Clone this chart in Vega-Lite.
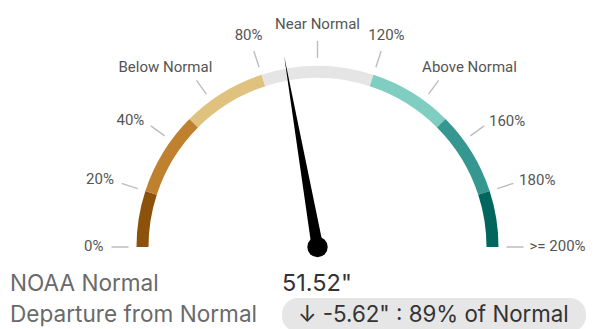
{
  "$schema": "https://vega.github.io/schema/vega-lite/v6.json",
  "width": 605,
  "height": 329,
  "autosize": "none",
  "padding": 0,
  "background": "white",
  "config": {"view": {"stroke": null}},
  "datasets": {
    "segments": [
      {"seg": "0-20", "from": 0, "to": 20},
      {"seg": "20-50", "from": 20, "to": 50},
      {"seg": "50-80", "from": 50, "to": 80},
      {"seg": "80-120", "from": 80, "to": 120},
      {"seg": "120-150", "from": 120, "to": 150},
      {"seg": "150-180", "from": 150, "to": 180},
      {"seg": "180-200", "from": 180, "to": 200}
    ],
    "ticks": [
      {"pct": 0, "label": "0%"},
      {"pct": 20, "label": "20%"},
      {"pct": 40, "label": "40%"},
      {"pct": 60, "label": "Below Normal"},
      {"pct": 80, "label": "80%"},
      {"pct": 100, "label": "Near Normal"},
      {"pct": 120, "label": "120%"},
      {"pct": 140, "label": "Above Normal"},
      {"pct": 160, "label": "160%"},
      {"pct": 180, "label": "180%"},
      {"pct": 200, "label": ">= 200%"}
    ],
    "needle": [{"pct": 89}],
    "info": [
      {"key": "NOAA Normal", "val": "51.52\""},
      {"key": "Departure from Normal", "val": "↓ -5.62\" : 89% of Normal"}
    ]
  },
  "layer": [
    {
      "data": {"name": "segments"},
      "mark": {"type": "arc", "x": 317.5, "y": 247, "radius": 181, "radius2": 169},
      "encoding": {
        "theta": {"field": "from", "type": "quantitative", "stack": null, "scale": {"domain": [0, 200], "range": [-1.5707963, 1.5707963]}},
        "theta2": {"field": "to"},
        "color": {
          "field": "seg", "type": "nominal", "legend": null,
          "scale": {
            "domain": ["0-20", "20-50", "50-80", "80-120", "120-150", "150-180", "180-200"],
            "range": ["#8c510a", "#bf812d", "#dfc27d", "#e5e5e5", "#80cdc1", "#35978f", "#01665e"]
          }
        }
      }
    },
    {
      "data": {"name": "ticks"},
      "mark": {"type": "arc", "x": 317.5, "y": 247, "radius": 206, "radius2": 189, "filled": false, "stroke": "#bdbdbd", "strokeWidth": 1.4},
      "encoding": {
        "theta": {"field": "pct", "type": "quantitative", "stack": null, "scale": {"domain": [0, 200], "range": [-1.5707963, 1.5707963]}},
        "theta2": {"field": "pct"}
      }
    },
    {
      "data": {"name": "ticks"},
      "transform": [{"filter": "datum.pct < 50"}],
      "mark": {"type": "text", "x": 317.5, "y": 247, "radius": 214, "align": "right", "baseline": "middle", "dy": -1.5, "font": "Roboto", "fontSize": 15, "color": "#555555"},
      "encoding": {
        "theta": {"field": "pct", "type": "quantitative", "stack": null, "scale": {"domain": [0, 200], "range": [-1.5707963, 1.5707963]}},
        "text": {"field": "label"}
      }
    },
    {
      "data": {"name": "ticks"},
      "transform": [{"filter": "datum.pct == 60"}],
      "mark": {"type": "text", "x": 317.5, "y": 247, "radius": 213, "align": "right", "baseline": "middle", "dx": 20, "dy": -7.5, "font": "Roboto", "fontSize": 15, "color": "#555555"},
      "encoding": {
        "theta": {"field": "pct", "type": "quantitative", "stack": null, "scale": {"domain": [0, 200], "range": [-1.5707963, 1.5707963]}},
        "text": {"field": "label"}
      }
    },
    {
      "data": {"name": "ticks"},
      "transform": [{"filter": "datum.pct >= 70 && datum.pct <= 130"}],
      "mark": {"type": "text", "x": 317.5, "y": 247, "radius": 223, "align": "center", "baseline": "middle", "font": "Roboto", "fontSize": 15, "color": "#555555"},
      "encoding": {
        "theta": {"field": "pct", "type": "quantitative", "stack": null, "scale": {"domain": [0, 200], "range": [-1.5707963, 1.5707963]}},
        "text": {"field": "label"}
      }
    },
    {
      "data": {"name": "ticks"},
      "transform": [{"filter": "datum.pct == 140"}],
      "mark": {"type": "text", "x": 317.5, "y": 247, "radius": 212, "align": "left", "baseline": "middle", "dx": -20, "dy": -8.5, "font": "Roboto", "fontSize": 15, "color": "#555555"},
      "encoding": {
        "theta": {"field": "pct", "type": "quantitative", "stack": null, "scale": {"domain": [0, 200], "range": [-1.5707963, 1.5707963]}},
        "text": {"field": "label"}
      }
    },
    {
      "data": {"name": "ticks"},
      "transform": [{"filter": "datum.pct > 150"}],
      "mark": {"type": "text", "x": 317.5, "y": 247, "radius": 212, "align": "left", "baseline": "middle", "dy": -1.5, "font": "Roboto", "fontSize": 15, "color": "#555555"},
      "encoding": {
        "theta": {"field": "pct", "type": "quantitative", "stack": null, "scale": {"domain": [0, 200], "range": [-1.5707963, 1.5707963]}},
        "text": {"field": "label"}
      }
    },
    {
      "data": {"name": "needle"},
      "mark": {"type": "point", "x": 317.5, "y": 247, "shape": "M -0.03 0 L 0 -1 L 0.03 0 Z", "size": 150544, "filled": true, "opacity": 1, "color": "black", "strokeWidth": 0},
      "encoding": {
        "angle": {"field": "pct", "type": "quantitative", "scale": {"domain": [0, 200], "range": [-90, 90]}, "legend": null}
      }
    },
    {
      "data": {"name": "needle"},
      "mark": {"type": "point", "x": 317.5, "y": 247, "shape": "circle", "size": 415, "filled": true, "opacity": 1, "color": "black", "strokeWidth": 0},
      "encoding": {}
    },
    {
      "data": {"name": "info"},
      "transform": [{"filter": "datum.key == 'Departure from Normal'"}],
      "mark": {"type": "rect", "x": 282, "x2": 586, "y": 298, "y2": 332, "cornerRadius": 16, "color": "#e6e6e6"},
      "encoding": {}
    },
    {
      "data": {"name": "info"},
      "mark": {"type": "text", "x": 10, "align": "left", "baseline": "alphabetic", "font": "Inter", "fontSize": 22.6, "color": "#6a6a6a"},
      "encoding": {
        "y": {"field": "key", "type": "nominal", "axis": null, "scale": {"type": "point", "padding": 0, "domain": ["NOAA Normal", "Departure from Normal"], "range": [291, 322]}},
        "text": {"field": "key"}
      }
    },
    {
      "data": {"name": "info"},
      "transform": [{"filter": "datum.key == 'NOAA Normal'"}],
      "mark": {"type": "text", "x": 282, "align": "left", "baseline": "alphabetic", "font": "Inter", "fontSize": 23.5, "color": "#333333"},
      "encoding": {
        "y": {"field": "key", "type": "nominal", "axis": null, "scale": {"type": "point", "padding": 0, "domain": ["NOAA Normal", "Departure from Normal"], "range": [291, 322]}},
        "text": {"field": "val"}
      }
    },
    {
      "data": {"name": "info"},
      "transform": [{"filter": "datum.key == 'Departure from Normal'"}],
      "mark": {"type": "text", "x": 298, "align": "left", "baseline": "alphabetic", "font": "Inter", "fontSize": 22.3, "color": "#333333"},
      "encoding": {
        "y": {"field": "key", "type": "nominal", "axis": null, "scale": {"type": "point", "padding": 0, "domain": ["NOAA Normal", "Departure from Normal"], "range": [291, 322]}},
        "text": {"field": "val"}
      }
    }
  ]
}
